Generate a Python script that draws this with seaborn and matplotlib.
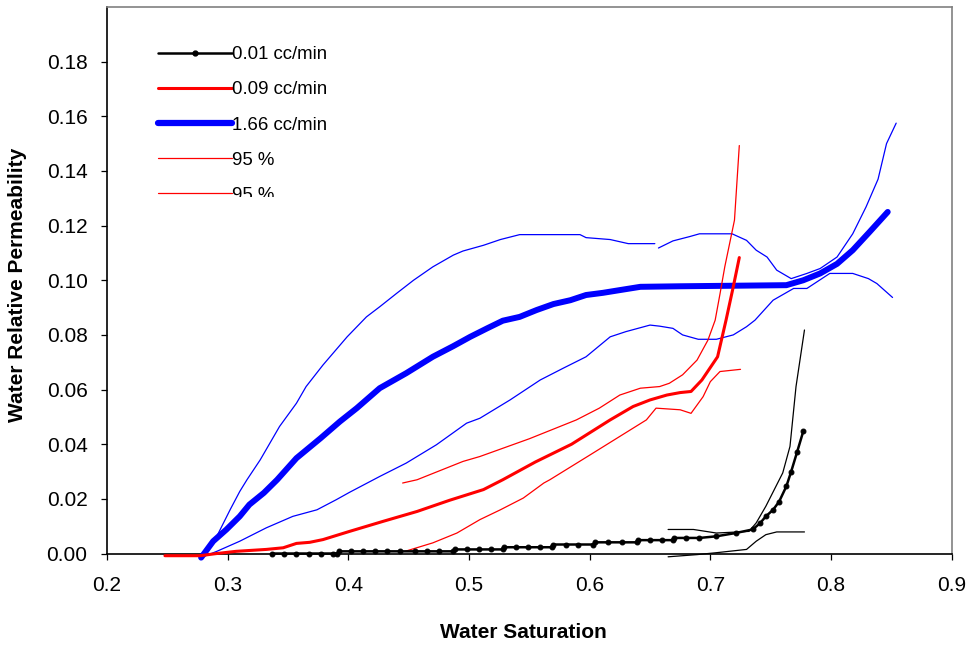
import numpy as np
import pandas as pd
import matplotlib
matplotlib.use("Agg")
import matplotlib.pyplot as plt
import seaborn as sns
from matplotlib.lines import Line2D
from matplotlib.transforms import Bbox, TransformedBbox

# ---------------- data ----------------
# 1.66 cc/min (thick blue)
blue_x = [0.278, 0.288, 0.299, 0.310, 0.318, 0.330, 0.341, 0.357, 0.377, 0.393, 0.407, 0.426,
          0.448, 0.470, 0.487, 0.501, 0.515, 0.528, 0.542, 0.556, 0.570, 0.584, 0.597, 0.611,
          0.625, 0.642, 0.675, 0.720, 0.763, 0.777, 0.791, 0.805, 0.818, 0.832, 0.847]
blue_y = [-0.0015, 0.0045, 0.0088, 0.0136, 0.0179, 0.0222, 0.0270, 0.0349, 0.0422, 0.0483, 0.0532, 0.0605,
          0.0660, 0.0720, 0.0759, 0.0793, 0.0824, 0.0852, 0.0866, 0.0891, 0.0913, 0.0927, 0.0946, 0.0954,
          0.0964, 0.0976, 0.0978, 0.0980, 0.0982, 0.1000, 0.1025, 0.1060, 0.1110, 0.1177, 0.1250]

# blue 95 % upper (two pieces, small gap near 0.655)
blue_hi1_x = [0.278, 0.291, 0.302, 0.310, 0.316, 0.327, 0.343, 0.357, 0.365, 0.379, 0.399, 0.415,
              0.426, 0.440, 0.454, 0.470, 0.487, 0.495, 0.512, 0.526, 0.542, 0.592, 0.597, 0.617,
              0.632, 0.654]
blue_hi1_y = [-0.0015, 0.0063, 0.0160, 0.0227, 0.0270, 0.0343, 0.0465, 0.0550, 0.0611, 0.0690, 0.0793, 0.0866,
              0.0903, 0.0952, 0.1000, 0.1049, 0.1092, 0.1107, 0.1128, 0.1149, 0.1167, 0.1167, 0.1156, 0.1149,
              0.1134, 0.1134]
blue_hi2_x = [0.657, 0.669, 0.683, 0.691, 0.718, 0.730, 0.738, 0.747, 0.755, 0.767, 0.780, 0.791,
              0.805, 0.818, 0.829, 0.839, 0.846, 0.854]
blue_hi2_y = [0.1118, 0.1144, 0.1160, 0.1170, 0.1170, 0.1146, 0.1110, 0.1085, 0.1037, 0.1006, 0.1025, 0.1043,
              0.1085, 0.1170, 0.1268, 0.1370, 0.1500, 0.1575]

# blue 95 % lower
blue_lo_x = [0.278, 0.291, 0.310, 0.332, 0.354, 0.374, 0.390, 0.401, 0.426, 0.448, 0.473, 0.498,
             0.509, 0.534, 0.559, 0.578, 0.597, 0.617, 0.630, 0.650, 0.658, 0.669, 0.677, 0.690,
             0.705, 0.719, 0.730, 0.737, 0.752, 0.769, 0.780, 0.799, 0.818, 0.831, 0.838, 0.851]
blue_lo_y = [-0.0015, 0.0008, 0.0045, 0.0094, 0.0136, 0.0160, 0.0197, 0.0224, 0.0282, 0.0331, 0.0398, 0.0477,
             0.0495, 0.0562, 0.0635, 0.0678, 0.0720, 0.0793, 0.0812, 0.0836, 0.0832, 0.0824, 0.0800, 0.0784,
             0.0784, 0.0800, 0.0830, 0.0854, 0.0927, 0.0970, 0.0970, 0.1025, 0.1025, 0.1006, 0.0988, 0.0937]

# 0.09 cc/min (thick red)
red_x = [0.248, 0.277, 0.291, 0.307, 0.332, 0.346, 0.357, 0.368, 0.379, 0.390, 0.401, 0.429,
         0.457, 0.484, 0.512, 0.528, 0.555, 0.585, 0.617, 0.636, 0.650, 0.664, 0.675, 0.684,
         0.693, 0.706, 0.713, 0.719, 0.724]
red_y = [-0.0008, -0.0008, 0.0000, 0.0008, 0.0015, 0.0021, 0.0037, 0.0041, 0.0051, 0.0066, 0.0081, 0.0118,
         0.0154, 0.0195, 0.0234, 0.0270, 0.0335, 0.0400, 0.0489, 0.0538, 0.0562, 0.0580, 0.0589, 0.0593,
         0.0635, 0.0720, 0.0854, 0.0976, 0.1083]

# red 95 % upper
red_hi_x = [0.445, 0.457, 0.495, 0.509, 0.550, 0.589, 0.608, 0.625, 0.642, 0.658, 0.666, 0.677,
            0.689, 0.698, 0.704, 0.708, 0.712, 0.720, 0.724]
red_hi_y = [0.0258, 0.0270, 0.0337, 0.0355, 0.0420, 0.0489, 0.0532, 0.0580, 0.0605, 0.0611, 0.0623, 0.0654,
            0.0708, 0.0781, 0.0854, 0.0950, 0.1050, 0.1220, 0.1493]

# red 95 % lower
red_lo_x = [0.447, 0.470, 0.490, 0.509, 0.526, 0.545, 0.562, 0.567, 0.600, 0.647, 0.655, 0.675,
            0.684, 0.694, 0.700, 0.708, 0.725]
red_lo_y = [0.0008, 0.0039, 0.0075, 0.0124, 0.0160, 0.0203, 0.0258, 0.0270, 0.0360, 0.0489, 0.0532, 0.0526,
            0.0513, 0.0574, 0.0629, 0.0666, 0.0674]

# 0.01 cc/min (black with markers)
blk_x = [0.337, 0.347, 0.357, 0.367, 0.377, 0.387, 0.391, 0.392, 0.402, 0.412, 0.422, 0.432,
         0.443, 0.455, 0.465, 0.475, 0.487, 0.488, 0.498, 0.508, 0.518, 0.528, 0.529, 0.539,
         0.549, 0.559, 0.569, 0.570, 0.580, 0.590, 0.603, 0.604, 0.615, 0.627, 0.639, 0.640,
         0.650, 0.660, 0.669, 0.670, 0.680, 0.691, 0.705, 0.721, 0.735, 0.741, 0.746, 0.752,
         0.757, 0.763, 0.767, 0.772, 0.777]
blk_y = [0.0000, 0.0000, 0.0000, 0.0000, 0.0000, 0.0000, 0.0000, 0.0008, 0.0008, 0.0008, 0.0008, 0.0008,
         0.0008, 0.0008, 0.0008, 0.0008, 0.0008, 0.0015, 0.0015, 0.0015, 0.0015, 0.0015, 0.0023, 0.0023,
         0.0023, 0.0023, 0.0023, 0.0033, 0.0033, 0.0033, 0.0033, 0.0041, 0.0041, 0.0041, 0.0041, 0.0049,
         0.0049, 0.0049, 0.0049, 0.0057, 0.0057, 0.0057, 0.0063, 0.0075, 0.0088, 0.0110, 0.0136, 0.0160,
         0.0190, 0.0246, 0.0300, 0.0373, 0.0447]

# black 95 % bounds
blk_hi_x = [0.665, 0.686, 0.705, 0.732, 0.738, 0.746, 0.753, 0.760, 0.766, 0.771, 0.778]
blk_hi_y = [0.0088, 0.0088, 0.0075, 0.0081, 0.0112, 0.0173, 0.0234, 0.0295, 0.0392, 0.0611, 0.0818]
blk_lo_x = [0.665, 0.689, 0.705, 0.730, 0.738, 0.746, 0.755, 0.778]
blk_lo_y = [-0.0012, -0.0004, 0.0003, 0.0015, 0.0045, 0.0069, 0.0079, 0.0079]

legend_labels = ["0.01 cc/min", "0.09 cc/min", "1.66 cc/min", "95 %", "95 %"]
x_ticks = [0.2, 0.3, 0.4, 0.5, 0.6, 0.7, 0.8, 0.9]
y_ticks = [0.00, 0.02, 0.04, 0.06, 0.08, 0.10, 0.12, 0.14, 0.16, 0.18]

# ---------------- figure ----------------
sns.set_theme(style="ticks")
plt.rcParams["font.family"] = ["Liberation Sans", "DejaVu Sans"]

fig = plt.figure(figsize=(9.71, 6.48), dpi=100)
ax = fig.add_axes([0.1102, 0.1458, 0.8699, 0.8434])


def draw(x, y, color, lw, z, **kw):
    df = pd.DataFrame({"x": x, "y": y})
    sns.lineplot(data=df, x="x", y="y", color=color, linewidth=lw, estimator=None,
                 sort=False, ax=ax, legend=False, clip_on=False, zorder=z, **kw)


BLUE = "#0000FF"
RED = "#FF0000"

draw(blue_hi1_x, blue_hi1_y, BLUE, 0.9, 2)
draw(blue_hi2_x, blue_hi2_y, BLUE, 0.9, 2)
draw(blue_lo_x, blue_lo_y, BLUE, 0.9, 2)
draw(blue_x, blue_y, BLUE, 4.3, 3)
draw(red_hi_x, red_hi_y, RED, 0.9, 4)
draw(red_lo_x, red_lo_y, RED, 0.9, 4)
draw(red_x, red_y, RED, 2.2, 5)
draw(blk_hi_x, blk_hi_y, "black", 0.9, 6)
draw(blk_lo_x, blk_lo_y, "black", 0.9, 6)
draw(blk_x, blk_y, "black", 1.8, 7, marker="o", markersize=3.5,
     markeredgecolor="black", markerfacecolor="black")

ax.set_xlim(0.2, 0.9)
ax.set_ylim(0.0, 0.2)
ax.set_xticks(x_ticks)
ax.set_yticks(y_ticks)
ax.set_xticklabels([f"{v:.1f}" for v in x_ticks])
ax.set_yticklabels([f"{v:.2f}" for v in y_ticks])
ax.tick_params(axis="both", direction="out", length=4, width=0.9, color="black",
               labelsize=15, labelcolor="black")
ax.tick_params(axis="x", pad=12)
ax.tick_params(axis="y", pad=10)

for s in ["left", "bottom"]:
    ax.spines[s].set_color("black")
    ax.spines[s].set_linewidth(1.2)
for s in ["top", "right"]:
    ax.spines[s].set_visible(True)
    ax.spines[s].set_color("#808080")
    ax.spines[s].set_linewidth(1.2)

ax.set_xlabel("Water Saturation", fontsize=15, fontweight="bold", color="black")
ax.set_ylabel("Water Relative Permeability", fontsize=15, fontweight="bold", color="black")
ax.xaxis.label.set_va("center")
ax.yaxis.label.set_va("center")
ax.xaxis.set_label_coords(0.4925, -0.1436)
ax.yaxis.set_label_coords(-0.1054, 0.491)

handles = [
    Line2D([], [], color="black", lw=1.8, marker="o", markersize=3.5),
    Line2D([], [], color=RED, lw=2.2),
    Line2D([], [], color=BLUE, lw=4.5),
    Line2D([], [], color=RED, lw=0.9),
    Line2D([], [], color=RED, lw=0.9),
]
leg = ax.legend(handles, legend_labels, loc="upper left", bbox_to_anchor=(0.0604, 0.928),
                frameon=False, fontsize=13.4, handlelength=4.0, handletextpad=0.0,
                labelspacing=0.97, borderpad=0, borderaxespad=0, numpoints=1)
for t in leg.get_texts():
    t.set_color("black")

# the reference legend box cuts the last entry at its bottom
clip = TransformedBbox(Bbox([[0.0, 1 - 197 / 648], [1.0, 1.0]]), fig.transFigure)
last_t = leg.get_texts()[-1]
last_t.set_clip_box(clip)
last_t.set_clip_on(True)

fig.savefig("out.png", dpi=100)
